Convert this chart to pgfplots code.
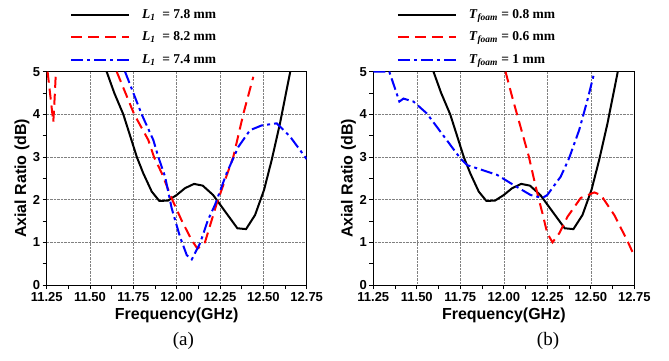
\documentclass[border=0pt]{standalone}
\usepackage{fontspec}
\setmainfont{Liberation Serif}
\setsansfont{Liberation Sans}
\usepackage{pgfplots}
\pgfplotsset{compat=1.18}

\pgfplotstableread{
f v
11.596 5.00
11.640 4.50
11.692 4.00
11.735 3.45
11.770 3.00
11.807 2.62
11.856 2.19
11.900 1.97
11.950 1.98
12.000 2.11
12.048 2.27
12.100 2.37
12.150 2.33
12.210 2.11
12.280 1.72
12.350 1.33
12.400 1.31
12.452 1.64
12.504 2.23
12.548 2.93
12.596 3.79
12.655 5.00
}\blackdata

\pgfplotstableread{
f v
11.255 5.00
11.272 4.40
11.288 3.82
11.296 4.40
11.303 5.00
}\redAleft

\pgfplotstableread{
f v
11.654 5.00
11.755 4.00
11.836 3.40
11.869 3.00
11.914 2.62
11.971 2.03
12.030 1.50
12.087 1.05
12.120 0.85
12.163 1.00
12.231 1.91
12.327 3.01
12.385 4.02
12.442 4.88
}\redA

\pgfplotstableread{
f v
11.702 5.00
11.798 4.00
11.865 3.40
11.894 3.00
11.933 2.54
11.971 1.80
12.019 1.13
12.058 0.70
12.087 0.60
12.135 0.98
12.180 1.52
12.221 1.88
12.288 2.62
12.356 3.24
12.423 3.63
12.490 3.74
12.577 3.79
12.654 3.48
12.750 2.95
}\blueA

\pgfplotstableread{
f v
12.010 5.00
12.048 4.41
12.096 3.71
12.144 3.01
12.183 2.31
12.222 1.68
12.250 1.21
12.280 1.00
12.320 1.22
12.366 1.60
12.442 2.04
12.520 2.17
12.558 2.11
12.635 1.64
12.712 1.02
12.750 0.68
}\redB

\pgfplotstableread{
f v
11.250 5.00
11.342 5.00
11.400 4.30
11.423 4.37
11.481 4.30
11.558 4.02
11.664 3.44
11.750 2.97
11.789 2.81
11.866 2.71
11.962 2.58
12.058 2.34
12.154 2.11
12.222 2.04
12.250 2.11
12.327 2.54
12.375 2.97
12.433 3.63
12.481 4.34
12.520 4.98
}\blueB

\pgfplotsset{
  arstyle/.style={
    scale only axis, anchor=south west,
    height=213.3pt,
    xmin=11.25, xmax=12.75, ymin=0, ymax=5,
    xtick={11.25,11.5,11.75,12,12.25,12.5,12.75},
    ytick={0,1,2,3,4,5},
    minor x tick num=1, minor y tick num=1,
    tick pos=left, tick align=outside,
    major tick length=4pt, minor tick length=4pt,
    every tick/.style={black, line width=0.8pt},
    axis line style={line width=1pt, black},
    grid=major,
    major grid style={densely dotted, gray, line width=0.6pt},
    /pgf/number format/assume math mode=true,
    xticklabel style={font=\fontsize{13}{14}\selectfont\sffamily\bfseries, /pgf/number format/.cd, fixed, fixed zerofill, precision=2},
    yticklabel style={font=\fontsize{13}{14}\selectfont\sffamily\bfseries, xshift=1pt},
    xlabel={Frequency(GHz)},
    ylabel={Axial Ratio (dB)},
    label style={font=\fontsize{16}{18}\selectfont\sffamily\bfseries},
    xlabel style={at={(axis description cs:0.5,0)}, anchor=center, yshift=-30.7pt},
    ylabel style={at={(axis description cs:-0.095,0.5)}, anchor=center},
    clip=true,
    legend cell align=left,
    legend image code/.code={\draw[##1] (0pt,0pt) -- (58pt,0pt);},
    legend style={draw=none, fill=none, inner sep=0pt, row sep=9.5pt, column sep=12pt,
      font=\fontsize{13.5}{15}\selectfont\rmfamily\bfseries,
      nodes={inner sep=0pt, text height=10pt, text depth=3pt},
      anchor=south west, at={(axis description cs:0.0896,1)}, yshift=5.2pt},
  },
  blk/.style={black, line width=2pt},
  rd/.style={red, line width=2pt, dash pattern=on 11pt off 6pt},
  bl/.style={blue, line width=2pt, dash pattern=on 12pt off 4pt on 3pt off 4pt},
}

\begin{document}
\begin{tikzpicture}
\useasboundingbox (0pt,0pt) rectangle (669pt,360pt);

\begin{axis}[arstyle, at={(46.7pt,75pt)}, width=260pt]
\addplot[blk] table[x=f,y=v]{\blackdata};
\addlegendentry{\textit{L}\textsubscript{\textit{1}}\ \ = 7.8 mm}
\addplot[rd] table[x=f,y=v]{\redA};
\addlegendentry{\textit{L}\textsubscript{\textit{1}}\ \ = 8.2 mm}
\addplot[bl] table[x=f,y=v]{\blueA};
\addlegendentry{\textit{L}\textsubscript{\textit{1}}\ \ = 7.4 mm}
\addplot[rd, forget plot] table[x=f,y=v]{\redAleft};
\end{axis}

\begin{axis}[arstyle, at={(373.3pt,75pt)}, width=261pt]
\addplot[blk] table[x=f,y=v]{\blackdata};
\addlegendentry{\textit{T}\textsubscript{\textit{foam}} = 0.8 mm}
\addplot[rd] table[x=f,y=v]{\redB};
\addlegendentry{\textit{T}\textsubscript{\textit{foam}} = 0.6 mm}
\addplot[bl] table[x=f,y=v]{\blueB};
\addlegendentry{\textit{T}\textsubscript{\textit{foam}} = 1 mm}
\end{axis}

\node[font=\fontsize{19}{21}\selectfont\rmfamily] at (183.3pt,19pt) {(a)};
\node[font=\fontsize{19}{21}\selectfont\rmfamily] at (548pt,19pt) {(b)};
\end{tikzpicture}
\end{document}
